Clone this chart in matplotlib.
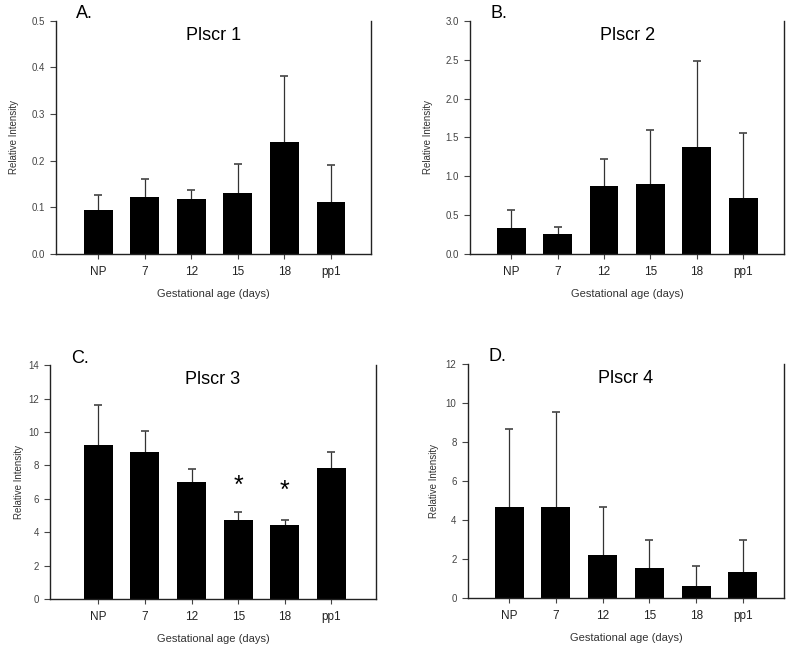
import numpy as np
import matplotlib.pyplot as plt

plt.rcParams['font.family'] = ['Liberation Sans', 'DejaVu Sans']

groups = ["NP", "7", "12", "15", "18", "pp1"]

plscr1 = [0.095, 0.122, 0.118, 0.131, 0.239, 0.111]
plscr1_err = [0.031, 0.039, 0.019, 0.062, 0.143, 0.079]

plscr2 = [0.334, 0.257, 0.88, 0.894, 1.38, 0.72]
plscr2_err = [0.226, 0.090, 0.34, 0.70, 1.10, 0.833]

plscr3 = [9.25, 8.82, 6.98, 4.73, 4.43, 7.84]
plscr3_err = [2.34, 1.23, 0.80, 0.50, 0.30, 0.96]
plscr3_star = [None, None, None, 6.8, 6.5, None]

plscr4 = [4.67, 4.67, 2.24, 1.56, 0.65, 1.34]
plscr4_err = [3.99, 4.85, 2.43, 1.42, 0.98, 1.64]

W, H = 786, 651
fig = plt.figure(figsize=(W / 100, H / 100), dpi=100)


def panel(rect, vals, errs, ymax, ystep, fmt, letter, title, xlim, ylpad, stars=None):
    ax = fig.add_axes(rect)
    x = np.arange(len(groups))
    ax.bar(x, vals, width=0.62, color='black', zorder=2)
    eb = ax.errorbar(x, vals, yerr=[np.zeros(len(vals)), errs], fmt='none',
                     ecolor='#333333', elinewidth=0.9, capsize=3.2, capthick=1.1, zorder=1)
    eb[1][0].set_visible(False)  # hide the cap at the bar top
    ax.set_xlim(*xlim)
    ax.set_ylim(0, ymax)
    ticks = np.arange(0, ymax + ystep / 2, ystep)
    ax.set_yticks(ticks)
    ax.set_yticklabels([fmt.format(v) for v in ticks])
    ax.set_xticks(x)
    ax.set_xticklabels(groups)
    ax.spines['top'].set_visible(False)
    for s in ['left', 'bottom', 'right']:
        ax.spines[s].set_linewidth(1.0)
        ax.spines[s].set_color('#222222')
    ax.tick_params(axis='y', labelsize=7, length=4, width=0.8, colors='#444444',
                   labelcolor='#444444', pad=4)
    ax.tick_params(axis='x', labelsize=8.5, length=3.5, width=0.8, colors='#444444',
                   labelcolor='#222222', pad=5)
    ax.set_ylabel("Relative Intensity", fontsize=7, color='#333333', labelpad=ylpad)
    ax.set_xlabel("Gestational age (days)", fontsize=8, color='#333333', labelpad=8)
    ax.text(0.5, 0.975, title, transform=ax.transAxes, ha='center', va='top', fontsize=13)
    ax.text(0.065, 1.03, letter, transform=ax.transAxes, ha='left', va='center', fontsize=13)
    if stars:
        for xi, s in zip(x, stars):
            if s is not None:
                ax.text(xi, s, '*', ha='center', va='center', fontsize=18)
    return ax


panel([0.071, 0.610, 0.401, 0.358], plscr1, plscr1_err, 0.5, 0.1, "{:.1f}",
      "A.", "Plscr 1", (-0.91, 5.86), 9)
panel([0.598, 0.610, 0.400, 0.358], plscr2, plscr2_err, 3.0, 0.5, "{:.1f}",
      "B.", "Plscr 2", (-0.89, 5.89), 9)
panel([0.064, 0.080, 0.414, 0.359], plscr3, plscr3_err, 14, 2, "{:.0f}",
      "C.", "Plscr 3", (-1.03, 5.95), 3, plscr3_star)
panel([0.595, 0.081, 0.403, 0.360], plscr4, plscr4_err, 12, 2, "{:.0f}",
      "D.", "Plscr 4", (-0.89, 5.89), 5)

fig.savefig("out.png", dpi=100)
